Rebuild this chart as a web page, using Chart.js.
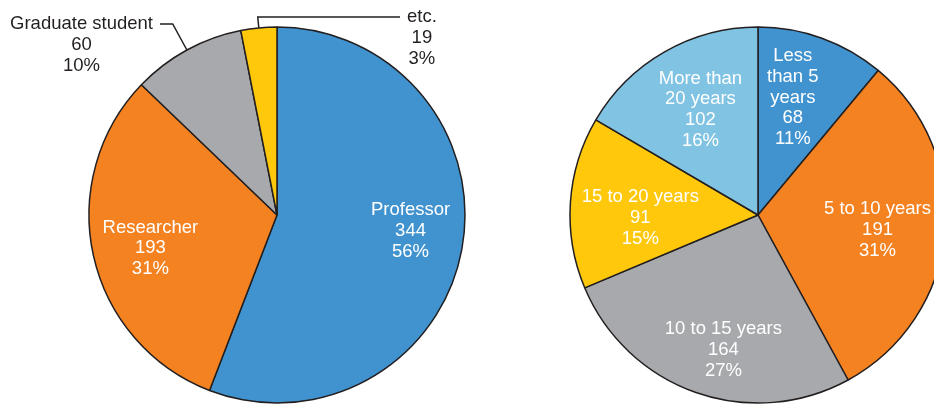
<!DOCTYPE html>
<html>
<head>
<meta charset="utf-8">
<script src="https://cdn.jsdelivr.net/npm/chart.js@4.4.1/dist/chart.umd.min.js"></script>
<style>
  html, body { margin: 0; padding: 0; background: #fff; overflow: hidden; }
  body { width: 934px; height: 405px; position: relative; }
  canvas { position: absolute; top: 0; }
  #roleChart { left: 0; }
  #careerChart { left: 558px; }
</style>
</head>
<body>
<canvas id="roleChart" width="554" height="405"></canvas>
<canvas id="careerChart" width="400" height="405"></canvas>
<script>
// respondents by position
const roleLabels = ["Professor", "Researcher", "Graduate student", "etc."];
const roleCounts = [344, 193, 60, 19];
const roleColors = ["#4193cf", "#f58220", "#a7a9ac", "#ffc80b"];

// respondents by years of experience
const careerLabels = [["Less", "than 5", "years"], "5 to 10 years", "10 to 15 years", "15 to 20 years", ["More than", "20 years"]];
const careerCounts = [68, 191, 164, 91, 102];
const careerColors = ["#4193cf", "#f58220", "#a7a9ac", "#ffc80b", "#80c3e2"];

const FONT = '"Liberation Sans", Arial, Helvetica, sans-serif';
const EDGE = "#231f20";

// percentages rounded so they add up to 100 (largest remainder)
function roundedPercents(values) {
  const total = values.reduce((a, b) => a + b, 0);
  const raw = values.map(v => v / total * 100);
  const out = raw.map(Math.floor);
  let left = 100 - out.reduce((a, b) => a + b, 0);
  raw.map((r, i) => [r - Math.floor(r), i])
    .sort((a, b) => b[0] - a[0])
    .forEach(([, i]) => { if (left > 0) { out[i]++; left--; } });
  return out;
}

const sliceLabels = {
  id: "sliceLabels",
  afterDatasetsDraw(chart, args, opts) {
    const ctx = chart.ctx;
    const meta = chart.getDatasetMeta(0);
    const values = chart.data.datasets[0].data;
    const pcts = roundedPercents(values);
    const lh = opts.lineHeight;
    ctx.save();
    ctx.font = opts.fontSize + "px " + FONT;
    ctx.textAlign = "center";
    ctx.textBaseline = "middle";
    meta.data.forEach((arc, i) => {
      const lines = [].concat(chart.data.labels[i], String(values[i]), pcts[i] + "%");
      const w = Math.max(...lines.map(s => ctx.measureText(s).width));
      const p = arc.getProps(["x", "y", "startAngle", "endAngle", "outerRadius"], true);
      const mid = (p.startAngle + p.endAngle) / 2;
      const call = (opts.callouts || {})[i];
      if (call) {
        // leader line from the rim out to a label beside the pie
        const ax = p.x + Math.cos(mid) * p.outerRadius;
        const ay = p.y + Math.sin(mid) * p.outerRadius;
        const t = (call.lineY - ay) / Math.sin(mid);
        const ex = ax + Math.cos(mid) * t;
        ctx.strokeStyle = EDGE;
        ctx.lineWidth = 1.5;
        ctx.beginPath();
        ctx.moveTo(ax, ay);
        ctx.lineTo(ex, call.lineY);
        ctx.lineTo(call.endX, call.lineY);
        ctx.stroke();
        const side = call.endX < ex ? -1 : 1;
        const cx = call.endX + side * (opts.gap + w / 2);
        ctx.fillStyle = EDGE;
        lines.forEach((s, k) => ctx.fillText(s, cx, call.lineY + k * lh));
      } else {
        const nudge = (opts.nudges || {})[i] || [0, 0];
        let cx = p.x + Math.cos(mid) * p.outerRadius * opts.radius + nudge[0];
        const cy = p.y + Math.sin(mid) * p.outerRadius * opts.radius + nudge[1];
        cx = Math.min(cx, opts.maxRight - w / 2);
        const top = cy - (lines.length - 1) * lh / 2;
        ctx.fillStyle = "#ffffff";
        lines.forEach((s, k) => ctx.fillText(s, cx, top + k * lh));
      }
    });
    ctx.restore();
  }
};

function makePie(id, labels, counts, colors, labelOpts) {
  return new Chart(document.getElementById(id), {
    type: "pie",
    data: {
      labels: labels,
      datasets: [{
        data: counts,
        backgroundColor: colors,
        borderColor: EDGE,
        borderWidth: 1.5,
        radius: 188
      }]
    },
    options: {
      responsive: false,
      animation: false,
      devicePixelRatio: 1,
      layout: { padding: { top: 25 } },
      plugins: {
        legend: { display: false },
        tooltip: { enabled: false },
        sliceLabels: Object.assign({ fontSize: 18.5, lineHeight: 20.8, gap: 7, radius: 0.69, maxRight: 10000 }, labelOpts)
      }
    },
    plugins: [sliceLabels]
  });
}

makePie("roleChart", roleLabels, roleCounts, roleColors, {
  callouts: {
    2: { lineY: 24, endX: 160 },
    3: { lineY: 17, endX: 400 }
  },
  nudges: { 0: [6, -8], 1: [0, 5] }
});

makePie("careerChart", careerLabels, careerCounts, careerColors, {
  radius: 0.67,
  maxRight: 373,
  nudges: { 0: [-8, 1], 1: [0, 3], 2: [7, 16], 3: [8, 11], 4: [5, 4] }
});
</script>
</body>
</html>
